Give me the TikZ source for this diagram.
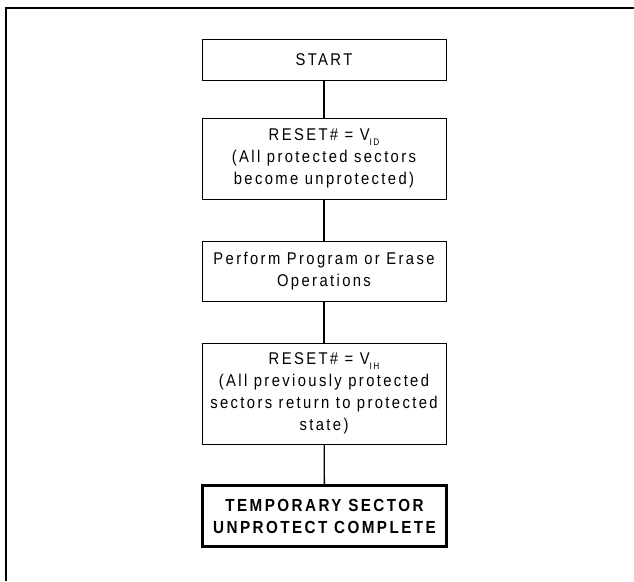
\documentclass[tikz,border=0pt]{standalone}
\usepackage{fontspec}
\setmainfont{Liberation Sans}[LetterSpace=14, FakeStretch=0.87]
\newcommand{\subtxt}[1]{\raisebox{-5pt}{\fontsize{9.5}{9.5}\selectfont #1}}
\begin{document}
\begin{tikzpicture}[x=1pt,y=1pt,
  flowbox/.style={draw=black, line width=1pt, rectangle, minimum width=244pt,
    inner sep=0pt, align=center, font=\fontsize{17}{21.8}\selectfont},
  endbox/.style={flowbox, line width=3.5pt, font=\bfseries\fontsize{17.5}{22}\selectfont},
  link/.style={draw=black, line width=1.3pt}]
\useasboundingbox (0,0) rectangle (634,-581);
% partial frame
\draw[line width=2pt] (6,-581) -- (6,-8) -- (634,-8);
\node[flowbox, minimum height=41pt] (start) at (324,-59.5) {START};
\node[flowbox, minimum height=81pt] (reset1) at (324,-158.5)
  {RESET\# = V\subtxt{ID}\\(All protected sectors\\become unprotected)};
\node[flowbox, minimum height=60pt] (perform) at (324,-271)
  {Perform Program or Erase\\Operations};
\node[flowbox, minimum height=101pt] (reset2) at (324,-393.5)
  {RESET\# = V\subtxt{IH}\\(All previously protected\\sectors return to protected\\state)};
\node[endbox, minimum height=61pt] (done) at (324.5,-516)
  {TEMPORARY SECTOR\\UNPROTECT COMPLETE};
\draw[link] (start) -- (reset1);
\draw[link] (reset1) -- (perform);
\draw[link] (perform) -- (reset2);
\draw[link] (reset2) -- (done);
\end{tikzpicture}
\end{document}
